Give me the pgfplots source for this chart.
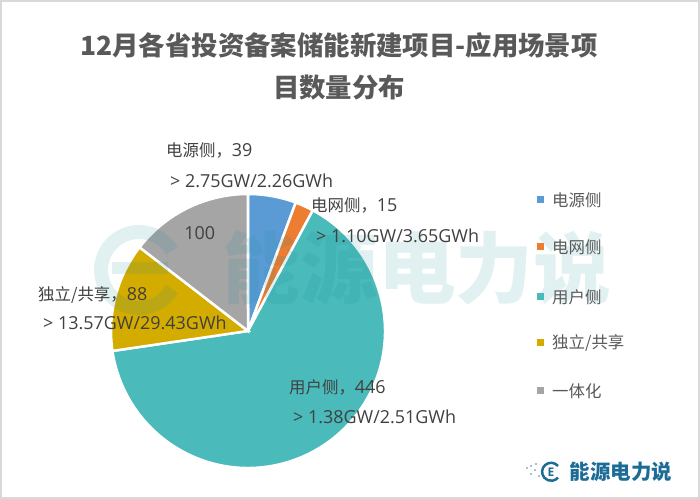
\documentclass[border=0pt]{standalone}
\usepackage{pgfplots}
\usepackage{pgfplotstable}
\pgfplotsset{compat=1.18}
\usepackage{fontspec}
\setmainfont{Open Sans}
\newfontfamily\cjk{Noto Sans CJK SC}

\definecolor{pie0}{HTML}{5B9BD5}
\definecolor{pie1}{HTML}{ED7D31}
\definecolor{pie2}{HTML}{4BBABA}
\definecolor{pie3}{HTML}{D4AC00}
\definecolor{pie4}{HTML}{A5A5A5}
\definecolor{lab}{HTML}{404040}
\definecolor{leg}{HTML}{595959}
\definecolor{wmark}{RGB}{20,140,150}
\definecolor{logo}{RGB}{28,108,150}

% project counts per application scenario
\pgfplotstableread{
name value
电源侧 39
电网侧 15
用户侧 446
独立/共享 88
一体化 100
}\piedata

\newcommand\zh[1]{{\cjk\fontsize{16.5}{18}\selectfont #1}}

\begin{document}
\begin{tikzpicture}[x=1bp,y=1bp]
\path[use as bounding box] (0,0) rectangle (700,499);
\draw[black!15, line width=2bp] (1,1) rectangle (699,498);

% title
\node[font=\cjk\bfseries\fontsize{26.5}{30}\selectfont, text=leg] at (339,454) {12月各省投资备案储能新建项目-应用场景项};
\node[font=\cjk\bfseries\fontsize{26.5}{30}\selectfont, text=leg] at (339,411) {目数量分布};

\begin{axis}[
  at={(248bp,168bp)}, anchor=center,
  width=274bp, height=274bp, scale only axis,
  xmin=-1, xmax=1, ymin=-1, ymax=1,
  hide axis, clip=false,
]
  \def\total{0}
  \pgfplotsforeachungrouped \i in {0,...,4}{%
    \pgfplotstablegetelem{\i}{value}\of\piedata
    \pgfmathsetmacro\total{\total+\pgfplotsretval}%
  }
  \def\startang{90}
  \pgfplotsforeachungrouped \i in {0,...,4}{%
    \pgfplotstablegetelem{\i}{value}\of\piedata
    \let\val\pgfplotsretval
    \pgfmathsetmacro\endang{\startang-360*(\val/\total)}%
    \pgfmathsetmacro\midang{(\startang+\endang)/2}%
    \edef\wedge{\noexpand\fill[pie\i, draw=white, line width=2.5bp]
      (axis cs:0,0) -- (axis cs:{cos(\startang)},{sin(\startang)})
      arc[start angle=\startang, end angle=\endang, radius=137bp] -- cycle;}%
    \wedge
    \ifnum\i=4
      \edef\lbl{\noexpand\node[font=\noexpand\fontsize{18}{20}\noexpand\selectfont, text=lab]
        at (axis cs:{0.8*cos(\midang)},{0.8*sin(\midang)}) {\val};}%
      \lbl
    \fi
    \global\let\startang\endang
  }
\end{axis}

% watermark
\begin{scope}[opacity=0.13]
  \node[font=\cjk\bfseries\fontsize{78}{80}\selectfont, text=wmark] at (417,231) {能源电力说};
  \draw[wmark, line width=14bp] (172,248) arc[start angle=30, end angle=330, radius=38];
  \draw[wmark, line width=12bp] (112,231) -- (168,231);
\end{scope}

% data labels
\begin{scope}[every node/.style={anchor=west, inner sep=0pt, text=lab, font=\fontsize{18}{20}\selectfont}]
  \node at (166,349) {\zh{电源侧，}39};
  \node at (170,318) {> 2.75GW/2.26GWh};
  \node at (311,294) {\zh{电网侧，}15};
  \node at (316,263) {> 1.10GW/3.65GWh};
  \node at (38,204) {\zh{独立/共享，}88};
  \node at (43,176) {> 13.57GW/29.43GWh};
  \node at (289,112) {\zh{用户侧，}446};
  \node at (293,82) {> 1.38GW/2.51GWh};
\end{scope}

% legend
\begin{scope}[every node/.style={anchor=west, inner sep=0pt, text=leg, font=\cjk\fontsize{16.5}{18}\selectfont}]
  \fill[pie0] (536.5,295.5) rectangle +(7,7); \node at (552,299) {电源侧};
  \fill[pie1] (536.5,248.5) rectangle +(7,7); \node at (552,252) {电网侧};
  \fill[pie2] (536.5,198.5) rectangle +(7,7); \node at (552,202) {用户侧};
  \fill[pie3] (536.5,152.5) rectangle +(7,7); \node at (552,156) {独立/共享};
  \fill[pie4] (536.5,104.5) rectangle +(7,7); \node at (552,108) {一体化};
\end{scope}

% logo
\foreach \dx/\dy in {526/30,530/24,534/28,530/32,538/22,535/34} \fill[logo!40] (\dx,\dy) rectangle +(2,2);
\draw[logo, line width=2.5bp] (558,33) arc[start angle=40, end angle=320, radius=9];
\node[font=\bfseries\fontsize{12}{12}\selectfont, text=logo] at (551,27) {E};
\node[font=\cjk\bfseries\fontsize{20.5}{22}\selectfont, text=logo] at (621,27) {能源电力说};
\end{tikzpicture}
\end{document}
